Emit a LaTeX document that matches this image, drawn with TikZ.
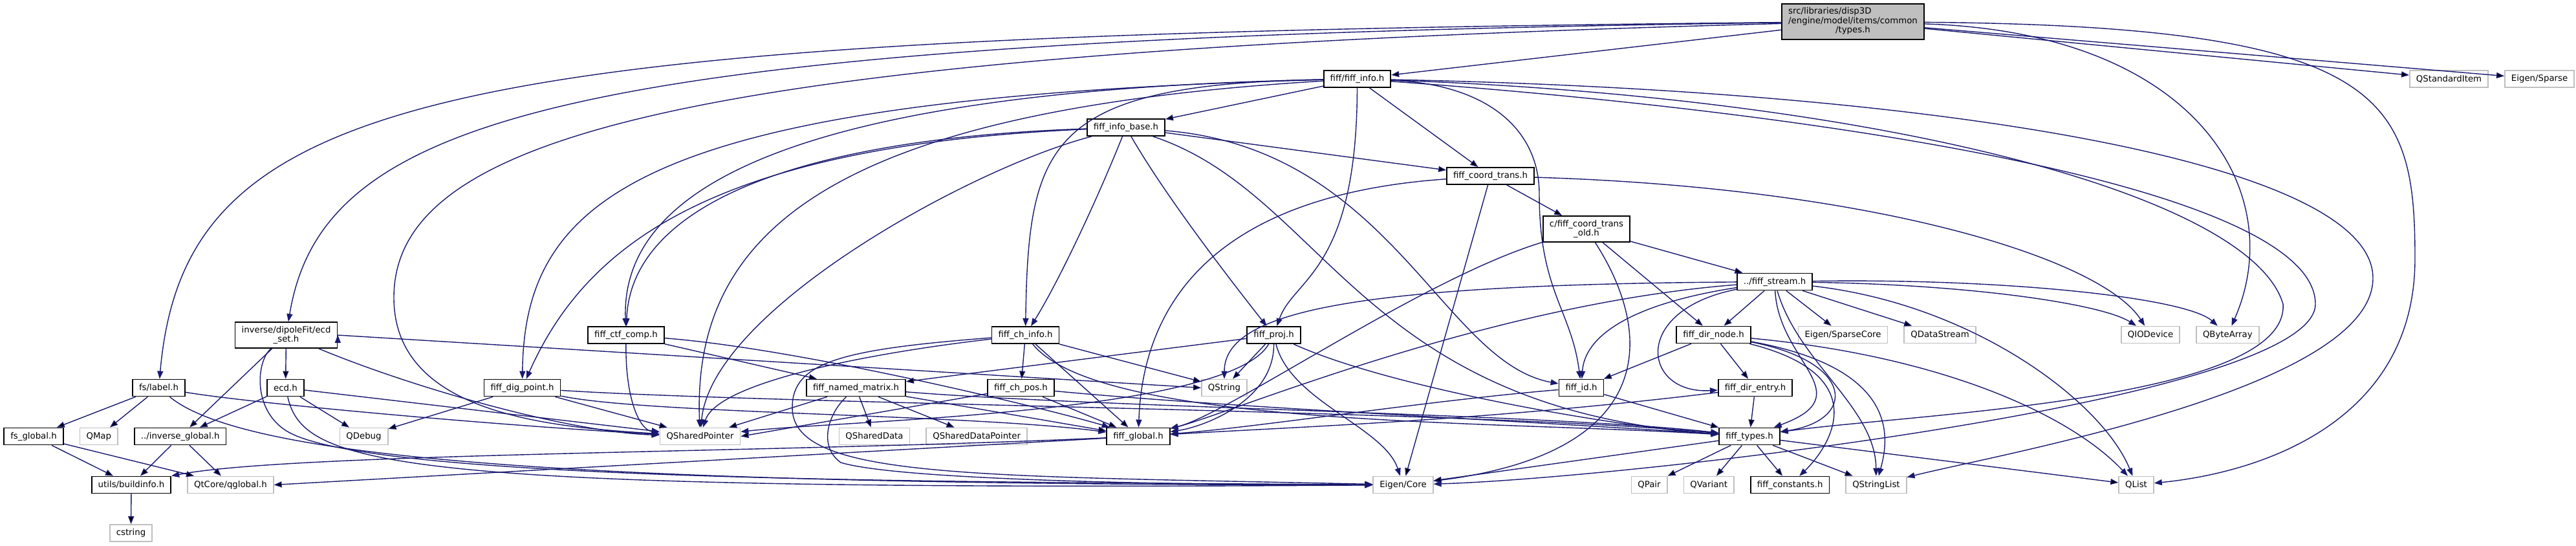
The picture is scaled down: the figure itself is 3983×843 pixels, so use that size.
\documentclass[tikz,border=0pt]{standalone}
\usepackage{fontspec}
\setmainfont{DejaVu Sans}
\usepackage{xcolor}
\usepackage{tikz}
\usetikzlibrary{arrows.meta, positioning}
\definecolor{edgeblue}{HTML}{191970}
\definecolor{grey75}{HTML}{BFBFBF}

\begin{document}
\begin{tikzpicture}[x=0.5pt, y=-0.5pt, >={Triangle[length=6pt,width=4.5pt]}]
  \tikzstyle{hfile} = [rectangle, draw=black, line width=0.9pt, fill=white, inner xsep=5pt, inner ysep=1pt, minimum height=13pt, align=center, font=\fontsize{6.65}{7.2}\selectfont]
  \tikzstyle{qtfile} = [hfile, draw=grey75]
  \tikzstyle{topfile} = [hfile, fill=grey75, minimum height=27.5pt]
  \tikzstyle{incl} = [->, draw=edgeblue, line width=0.7pt]

  \useasboundingbox (0,0) rectangle (3983,843);

  \node[topfile] (Types) at (2865,33.5) {\begin{tabular}{@{}l@{}}src/libraries/disp3D\\/engine/model/items/common\\\multicolumn{1}{@{}c@{}}{/types.h}\end{tabular}};
  \node[hfile] (FiffInfo) at (2098.5,122) {fiff/fiff\_info.h};
  \node[qtfile] (QStandardItem) at (3786.5,122) {QStandardItem};
  \node[qtfile, right=12pt of QStandardItem] (EigenSparse) {Eigen/Sparse};
  \node[hfile] (InfoBase) at (1741,197) {fiff\_info\_base.h};
  \node[hfile] (CoordTrans) at (2304.5,272) {fiff\_coord\_trans.h};
  \node[hfile, minimum height=20pt] (CoordTransOld) at (2453,354) {c/fiff\_coord\_trans\\\_old.h};
  \node[hfile] (FiffStream) at (2744,435.5) {../fiff\_stream.h};
  \node[hfile, minimum height=20pt] (EcdSet) at (442.5,518) {inverse/dipoleFit/ecd\\\_set.h};
  \node[hfile] (CtfComp) at (968,518) {fiff\_ctf\_comp.h};
  \node[hfile] (ChInfo) at (1585.5,518) {fiff\_ch\_info.h};
  \node[hfile] (FiffProj) at (1969.5,518) {fiff\_proj.h};
  \node[hfile] (DirNode) at (2649.5,517.5) {fiff\_dir\_node.h};
  \node[qtfile] (SparseCore) at (2849.5,517.5) {Eigen/SparseCore};
  \node[qtfile, right=12pt of SparseCore] (QDataStream) {QDataStream};
  \node[qtfile] (QIODevice) at (3325,517.5) {QIODevice};
  \node[qtfile, right=12pt of QIODevice] (QByteArray) {QByteArray};
  \node[hfile] (Label) at (245.5,599.5) {fs/label.h};
  \node[hfile] (Ecd) at (441.5,599.5) {ecd.h};
  \node[hfile] (DigPoint) at (807.5,599.5) {fiff\_dig\_point.h};
  \node[hfile] (NamedMatrix) at (1323.5,599.5) {fiff\_named\_matrix.h};
  \node[hfile] (ChPos) at (1578.5,599.5) {fiff\_ch\_pos.h};
  \node[qtfile] (QString) at (1893,599.5) {QString};
  \node[hfile] (FiffId) at (2445,599.5) {fiff\_id.h};
  \node[hfile] (DirEntry) at (2714,599.5) {fiff\_dir\_entry.h};
  \node[hfile] (FsGlobal) at (52,674.5) {fs\_global.h};
  \node[qtfile, right=12pt of FsGlobal] (QMap) {QMap};
  \node[hfile, right=12pt of QMap] (InvGlobal) {../inverse\_global.h};
  \node[qtfile] (QDebug) at (562.5,674.5) {QDebug};
  \node[qtfile] (QSharedPointer) at (1082.5,674.5) {QSharedPointer};
  \node[qtfile] (QSharedData) at (1352,674.5) {QSharedData};
  \node[qtfile, right=12pt of QSharedData] (QSharedDataPointer) {QSharedDataPointer};
  \node[hfile] (FiffGlobal) at (1760,674.5) {fiff\_global.h};
  \node[hfile] (FiffTypes) at (2705,674.5) {fiff\_types.h};
  \node[hfile] (BuildInfo) at (203,749.5) {utils/buildinfo.h};
  \node[qtfile, right=12pt of BuildInfo] (QGlobal) {QtCore/qglobal.h};
  \node[qtfile] (EigenCore) at (2169.5,749.5) {Eigen/Core};
  \node[qtfile] (QPair) at (2550,749.5) {QPair};
  \node[qtfile, right=12pt of QPair] (QVariant) {QVariant};
  \node[hfile, right=12pt of QVariant] (Constants) {fiff\_constants.h};
  \node[qtfile, right=12pt of Constants] (QStringList) {QStringList};
  \node[qtfile] (QList) at (3303,749.5) {QList};
  \node[qtfile] (CString) at (202.5,824) {cstring};

  % types.h
  \path[incl] (Types) edge (FiffInfo) edge (QStandardItem) edge (EigenSparse);
  \draw[incl] (Types) .. controls (700,55) and (287,130) .. (Label);
  \draw[incl] (Types) .. controls (900,60) and (500,170) .. (EcdSet);
  \draw[incl] (Types) .. controls (1100,80) and (609,200) .. (609,460) .. controls (609,640) and (850,660) .. (QSharedPointer);
  \draw[incl] (Types) .. controls (3400,50) and (3540,300) .. (QByteArray);
  \draw[incl] (Types) .. controls (3690,40) and (3734,150) .. (3734,400) .. controls (3734,650) and (3500,730) .. (QList);

  % fiff_info.h
  \path[incl] (FiffInfo) edge (InfoBase) edge (CoordTrans);
  \draw[incl] (FiffInfo) .. controls (2098,420) and (2000,430) .. (FiffProj);
  \draw[incl] (FiffInfo) .. controls (1620,130) and (1590,220) .. (ChInfo);
  \draw[incl] (FiffInfo) .. controls (2300,130) and (2380,200) .. (2380,300) .. controls (2380,450) and (2430,480) .. (FiffId);
  \draw[incl] (FiffInfo) .. controls (1000,150) and (811,300) .. (DigPoint);
  \draw[incl] (FiffInfo) .. controls (1200,140) and (960,300) .. (CtfComp);
  \draw[incl] (FiffInfo) .. controls (1300,170) and (1070,350) .. (QSharedPointer);
  \draw[incl] (FiffInfo) .. controls (2900,150) and (3480,300) .. (3530,470) .. controls (3540,620) and (2950,640) .. (FiffTypes);
  \draw[incl] (FiffInfo) .. controls (3000,140) and (3669,250) .. (3669,430) .. controls (3669,600) and (3100,700) .. (QStringList);
  \draw[incl] (FiffInfo) .. controls (2900,180) and (3580,300) .. (3580,470) .. controls (3580,620) and (2500,740) .. (EigenCore);

  % fiff_info_base.h
  \path[incl] (InfoBase) edge (CoordTrans);
  \draw[incl] (InfoBase) .. controls (1200,215) and (975,330) .. (CtfComp);
  \draw[incl] (InfoBase) .. controls (1700,300) and (1640,430) .. (ChInfo);
  \draw[incl] (InfoBase) .. controls (1100,225) and (905,380) .. (DigPoint);
  \draw[incl] (InfoBase) .. controls (1800,300) and (1900,430) .. (FiffProj);
  \draw[incl] (InfoBase) .. controls (2150,230) and (2230,560) .. (FiffId);
  \draw[incl] (InfoBase) .. controls (1500,260) and (1100,480) .. (QSharedPointer);
  \draw[incl] (InfoBase) .. controls (2050,300) and (2100,630) .. (FiffTypes);

  % fiff_coord_trans.h
  \path[incl] (CoordTrans) edge (CoordTransOld) edge (EigenCore);
  \draw[incl] (CoordTrans) .. controls (1900,300) and (1768,450) .. (FiffGlobal);
  \draw[incl] (CoordTrans) .. controls (2900,290) and (3250,400) .. (QIODevice);

  % c/fiff_coord_trans_old.h
  \path[incl] (CoordTransOld) edge (FiffStream) edge (DirNode);
  \draw[incl] (CoordTransOld) .. controls (2560,520) and (2560,700) .. (EigenCore);
  \draw[incl] (CoordTransOld) .. controls (2200,430) and (1900,640) .. (FiffGlobal);

  % ../fiff_stream.h
  \path[incl] (FiffStream) edge (DirNode) edge (SparseCore) edge (QDataStream);
  \draw[incl] (FiffStream) .. controls (3050,440) and (3250,470) .. (QIODevice);
  \draw[incl] (FiffStream) .. controls (3100,430) and (3380,460) .. (QByteArray);
  \draw[incl] (FiffStream) .. controls (2520,470) and (2450,520) .. (FiffId);
  \draw[incl] (FiffStream) .. controls (2520,480) and (2540,610) .. (DirEntry);
  \draw[incl] (FiffStream) .. controls (2100,440) and (1893,480) .. (QString);
  \draw[incl] (FiffStream) .. controls (2300,470) and (1900,640) .. (FiffGlobal);
  \draw[incl] (FiffStream) .. controls (2750,560) and (2880,610) .. (FiffTypes);
  \draw[incl] (FiffStream) .. controls (2780,560) and (2900,630) .. (QStringList);
  \draw[incl] (FiffStream) .. controls (3050,470) and (3250,620) .. (QList);

  % fiff_dir_node.h
  \path[incl] (DirNode) edge (FiffId) edge (DirEntry);
  \draw[incl] (DirNode) .. controls (2870,560) and (2870,650) .. (FiffTypes);
  \draw[incl] (DirNode) .. controls (2900,580) and (2830,690) .. (Constants);
  \draw[incl] (DirNode) .. controls (2940,570) and (2920,680) .. (QStringList);
  \draw[incl] (DirNode) .. controls (3000,550) and (3200,640) .. (QList);

  % fiff_dir_entry.h, fiff_id.h
  \path[incl] (DirEntry) edge (FiffTypes);
  \draw[incl] (DirEntry) .. controls (2300,650) and (2000,660) .. (FiffGlobal);
  \path[incl] (FiffId) edge (FiffTypes);
  \draw[incl] (FiffId) .. controls (2200,620) and (1950,660) .. (FiffGlobal);

  % inverse/dipoleFit/ecd_set.h, ecd.h
  \path[incl] (EcdSet) edge (Ecd) edge (InvGlobal);
  \path[incl] (EcdSet.east) edge (QString.west);
  \draw[incl] (EcdSet) .. controls (640,600) and (880,668) .. (QSharedPointer);
  \draw[incl] (EcdSet) .. controls (395,560) and (390,640) .. (450,670) .. controls (600,745) and (1500,745) .. (EigenCore);
  \path[incl] (Ecd) edge (InvGlobal) edge (QDebug) edge (QSharedPointer);
  \draw[incl] (Ecd) .. controls (470,720) and (600,760) .. (EigenCore);

  % fs/label.h and the globals
  \path[incl] (Label) edge (FsGlobal) edge (QMap);
  \draw[incl] (Label) .. controls (400,625) and (800,660) .. (QSharedPointer);
  \draw[incl] (Label) .. controls (380,710) and (900,750) .. (EigenCore);
  \path[incl] (FsGlobal) edge (BuildInfo) edge (QGlobal);
  \path[incl] (InvGlobal) edge (BuildInfo) edge (QGlobal);
  \path[incl] (BuildInfo) edge (CString);
  \path[incl] (FiffGlobal) edge (QGlobal.east);
  \draw[incl] (FiffGlobal) .. controls (1200,700) and (450,700) .. (BuildInfo.north east);

  % fiff_ctf_comp.h
  \path[incl] (CtfComp) edge (NamedMatrix);
  \draw[incl] (CtfComp) .. controls (967,620) and (990,665) .. (QSharedPointer);
  \draw[incl] (CtfComp) .. controls (1250,540) and (1650,640) .. (FiffGlobal);

  % fiff_dig_point.h
  \path[incl] (DigPoint) edge (QDebug) edge (QSharedPointer);
  \draw[incl] (DigPoint) .. controls (1000,640) and (1500,640) .. (FiffGlobal);
  \draw[incl] (DigPoint) .. controls (1200,625) and (2300,635) .. (FiffTypes);

  % fiff_ch_info.h, fiff_ch_pos.h
  \path[incl] (ChInfo) edge (ChPos) edge (QString) edge (FiffGlobal);
  \draw[incl] (ChInfo) .. controls (1350,545) and (1110,590) .. (QSharedPointer);
  \draw[incl] (ChInfo) .. controls (1700,660) and (2300,650) .. (FiffTypes);
  \draw[incl] (ChInfo) .. controls (1300,540) and (1225,560) .. (1225,630) .. controls (1225,740) and (1500,735) .. (EigenCore);
  \path[incl] (ChPos) edge (QSharedPointer.east) edge (FiffGlobal);
  \draw[incl] (ChPos) .. controls (1900,630) and (2350,650) .. (FiffTypes);

  % fiff_proj.h
  \path[incl] (FiffProj) edge (NamedMatrix) edge (QString);
  \draw[incl] (FiffProj) .. controls (1970,620) and (1860,660) .. (FiffGlobal);
  \draw[incl] (FiffProj) .. controls (1995,620) and (2140,660) .. (EigenCore);
  \draw[incl] (FiffProj) .. controls (2150,600) and (2500,660) .. (FiffTypes);
  \draw[incl] (FiffProj) .. controls (1900,640) and (1300,650) .. (QSharedPointer);

  % fiff_named_matrix.h
  \path[incl] (NamedMatrix) edge (QSharedPointer) edge (QSharedData) edge (QSharedDataPointer) edge (FiffGlobal);
  \draw[incl] (NamedMatrix) .. controls (1700,630) and (2400,640) .. (FiffTypes);
  \draw[incl] (NamedMatrix) .. controls (1280,640) and (1265,690) .. (1300,715) .. controls (1400,745) and (1900,750) .. (EigenCore);

  % fiff_types.h
  \path[incl] (FiffTypes) edge (QPair) edge (QVariant) edge (Constants) edge (QStringList) edge (EigenCore) edge (QList);
\end{tikzpicture}
\end{document}
